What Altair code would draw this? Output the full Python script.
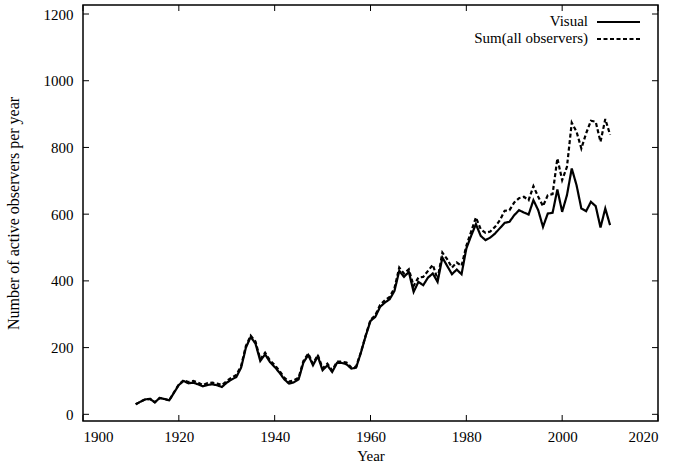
import altair as alt
import pandas as pd

years = list(range(1911, 2011))

visual = [30, 38, 45, 46, 36, 49, 46, 42, 65, 88,
          100, 93, 95, 90, 84, 88, 90, 87, 82, 95,
          104, 112, 140, 200, 232, 212, 160, 180, 157, 142,
          125, 105, 92, 96, 105, 155, 178, 147, 174, 132,
          147, 127, 154, 154, 150, 137, 140, 185, 235, 280,
          292, 322, 335, 345, 370, 430, 412, 427, 367, 397,
          387, 410, 422, 397, 470, 445, 420, 434, 420, 497,
          535, 570, 535, 522, 530, 542, 558, 574, 577, 597,
          612, 605, 599, 642, 612, 562, 602, 604, 674, 607,
          657, 737, 687, 617, 609, 637, 624, 560, 617, 567]

sum_all = [30, 38, 45, 46, 36, 49, 46, 42, 66, 90,
           102, 97, 100, 95, 88, 94, 95, 92, 88, 100,
           110, 118, 145, 205, 236, 218, 165, 185, 162, 148,
           130, 110, 98, 102, 110, 160, 182, 152, 178, 138,
           152, 132, 158, 158, 155, 140, 143, 186, 237, 283,
           297, 328, 342, 352, 378, 440, 422, 435, 385, 410,
           412, 430, 448, 405, 485, 465, 440, 455, 445, 505,
           548, 590, 555, 544, 548, 562, 582, 610, 612, 635,
           648, 652, 642, 684, 652, 624, 657, 660, 767, 702,
           742, 874, 847, 797, 842, 880, 877, 817, 885, 838]

series_names = ["Visual", "Sum(all observers)"]
x_ticks = [1900, 1920, 1940, 1960, 1980, 2000, 2020]
y_ticks = [0, 200, 400, 600, 800, 1000, 1200]

W, H = 575, 416
FONT = "Liberation Serif"

df = pd.DataFrame({
    "Year": years * 2,
    "Value": visual + sum_all,
    "Series": [series_names[0]] * len(years) + [series_names[1]] * len(years),
})

xscale = alt.Scale(domain=[1900, 2020], nice=False, zero=False)
yscale = alt.Scale(domain=[-20, 1227], nice=False, zero=False)

lines = alt.Chart(df).mark_line(strokeWidth=2.2, color="black").encode(
    x=alt.X("Year:Q", scale=xscale,
            axis=alt.Axis(values=x_ticks, format="d", title="Year", tickSize=0,
                          domain=False, grid=False, labelPadding=8,
                          titlePadding=4, titleFontSize=15)),
    y=alt.Y("Value:Q", scale=yscale,
            axis=alt.Axis(values=y_ticks, format="d",
                          title="Number of active observers per year",
                          tickSize=0, domain=False, grid=False, labelPadding=10,
                          titlePadding=22)),
    strokeDash=alt.StrokeDash("Series:N",
                              scale=alt.Scale(domain=series_names,
                                              range=[[1, 0], [4, 2.5]]),
                              legend=None),
    detail="Series:N",
)

xt = pd.DataFrame({"Year": x_ticks})
yt = pd.DataFrame({"Value": y_ticks})

xtick_bottom = alt.Chart(xt).mark_rule(color="black", strokeWidth=1).encode(
    x=alt.X("Year:Q", scale=xscale), y=alt.value(H), y2=alt.value(H - 6))
xtick_top = alt.Chart(xt).mark_rule(color="black", strokeWidth=1).encode(
    x=alt.X("Year:Q", scale=xscale), y=alt.value(0), y2=alt.value(6))
ytick_left = alt.Chart(yt).mark_rule(color="black", strokeWidth=1).encode(
    y=alt.Y("Value:Q", scale=yscale), x=alt.value(0), x2=alt.value(6))
ytick_right = alt.Chart(yt).mark_rule(color="black", strokeWidth=1).encode(
    y=alt.Y("Value:Q", scale=yscale), x=alt.value(W), x2=alt.value(W - 6))

leg = pd.DataFrame({"Series": series_names})
leg_text1 = alt.Chart(leg[leg.Series == series_names[0]]).mark_text(
    align="right", baseline="middle", font=FONT, fontSize=15, color="black"
).encode(text="Series:N", x=alt.value(505), y=alt.value(16))
leg_text2 = alt.Chart(leg[leg.Series == series_names[1]]).mark_text(
    align="right", baseline="middle", font=FONT, fontSize=15, color="black"
).encode(text="Series:N", x=alt.value(505), y=alt.value(33))
leg_line1 = alt.Chart(leg[leg.Series == series_names[0]]).mark_rule(
    color="black", strokeWidth=2.2
).encode(x=alt.value(514), x2=alt.value(557), y=alt.value(17))
leg_line2 = alt.Chart(leg[leg.Series == series_names[1]]).mark_rule(
    color="black", strokeWidth=2.2, strokeDash=[4, 2.5]
).encode(x=alt.value(514), x2=alt.value(557), y=alt.value(34))

chart = alt.layer(
    lines, xtick_bottom, xtick_top, ytick_left, ytick_right,
    leg_text1, leg_text2, leg_line1, leg_line2
).properties(
    width=W, height=H,
    autosize=alt.AutoSizeParams(type="none"),
    padding={"left": 83, "top": 5, "right": 19, "bottom": 45},
    background="white",
).configure_view(
    stroke="black", strokeWidth=1.5
).configure_axis(
    labelFont=FONT, titleFont=FONT, labelFontSize=15, titleFontSize=16,
    labelColor="black", titleColor="black", titleFontWeight="normal",
)

chart.save("out.html", embed_options={"renderer": "svg", "actions": False})
